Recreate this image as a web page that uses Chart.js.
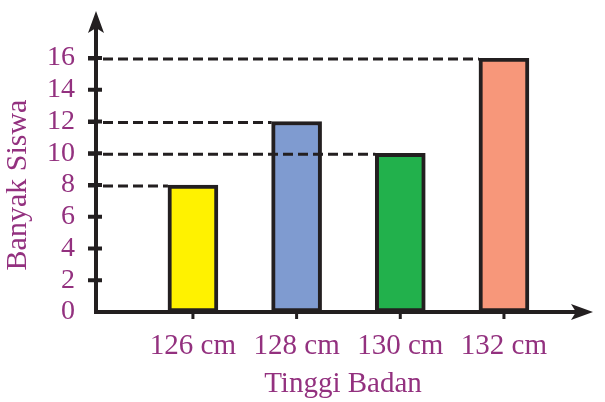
<!DOCTYPE html>
<html>
<head>
<meta charset="utf-8">
<script src="https://cdn.jsdelivr.net/npm/chart.js@4.4.0/dist/chart.umd.min.js"></script>
<style>
  html, body { margin: 0; padding: 0; background: #fff; }
  #wrap { width: 605px; height: 402px; }
</style>
</head>
<body>
<div id="wrap"><canvas id="heightChart" width="605" height="402"></canvas></div>
<script>
// data
const heights = [126, 128, 130, 132];
const heightLabels = ["126 cm", "128 cm", "130 cm", "132 cm"];
const students = [8, 12, 10, 16];
const barColors = ["#FFF200", "#7F9BD0", "#22B14C", "#F7977A"];
const yTicks = [0, 2, 4, 6, 8, 10, 12, 14, 16];

const ink = "#231F20";
const purple = "#93317F";
const serif = "'Liberation Serif', 'DejaVu Serif', serif";

// axes with arrows, tick marks and dashed guide lines
const axesPlugin = {
  id: "axesPlugin",
  afterDatasetsDraw(chart) {
    const ctx = chart.ctx;
    const xs = chart.scales.x;
    const ys = chart.scales.y;
    const x0 = xs.left;
    const y0 = ys.getPixelForValue(0);
    const meta = chart.getDatasetMeta(0);

    ctx.save();
    ctx.strokeStyle = ink;
    ctx.fillStyle = ink;

    // dashed lines from y axis to bar tops
    ctx.lineWidth = 3;
    ctx.setLineDash([10, 5]);
    meta.data.forEach((bar) => {
      const left = bar.x - bar.width / 2;
      ctx.beginPath();
      ctx.moveTo(x0 - 8, bar.y + 1);
      ctx.lineTo(left, bar.y + 1);
      ctx.stroke();
    });
    ctx.setLineDash([]);

    // y ticks
    ctx.lineWidth = 4;
    yTicks.slice(1).forEach((v) => {
      const py = ys.getPixelForValue(v);
      ctx.beginPath();
      ctx.moveTo(x0 - 8, py);
      ctx.lineTo(x0 + 6, py);
      ctx.stroke();
    });

    // x ticks
    ctx.lineWidth = 3;
    heights.forEach((h) => {
      const px = xs.getPixelForValue(h);
      ctx.beginPath();
      ctx.moveTo(px, y0);
      ctx.lineTo(px, y0 + 7);
      ctx.stroke();
    });

    // axis lines
    ctx.lineWidth = 4;
    ctx.beginPath();
    ctx.moveTo(x0, 26);
    ctx.lineTo(x0, y0);
    ctx.lineTo(580, y0);
    ctx.stroke();

    // arrow heads
    ctx.beginPath();
    ctx.moveTo(x0, 11);
    ctx.lineTo(x0 + 8, 33);
    ctx.lineTo(x0, 28);
    ctx.lineTo(x0 - 8, 33);
    ctx.closePath();
    ctx.fill();

    ctx.beginPath();
    ctx.moveTo(593, y0);
    ctx.lineTo(571, y0 - 8);
    ctx.lineTo(576, y0);
    ctx.lineTo(571, y0 + 8);
    ctx.closePath();
    ctx.fill();

    ctx.restore();
  },
};

new Chart(document.getElementById("heightChart"), {
  type: "bar",
  data: {
    datasets: [
      {
        data: heights.map((h, i) => ({ x: h, y: students[i] })),
        backgroundColor: barColors,
        borderColor: ink,
        borderWidth: 4,
        borderSkipped: false,
        barThickness: 50,
      },
    ],
  },
  options: {
    responsive: false,
    animation: false,
    devicePixelRatio: 1,
    layout: { padding: { left: 0, top: 58, right: 15, bottom: 0 } },
    plugins: { legend: { display: false }, tooltip: { enabled: false } },
    scales: {
      x: {
        type: "linear",
        offset: false,
        min: 124.13,
        max: 133.66,
        grid: { display: false, drawTicks: false },
        border: { display: false },
        afterBuildTicks: (scale) => {
          scale.ticks = heights.map((v) => ({ value: v }));
        },
        afterFit: (scale) => {
          scale.height = 90;
        },
        ticks: {
          autoSkip: false,
          maxRotation: 0,
          padding: 17,
          color: purple,
          font: { family: serif, size: 29 },
          callback: (v, i) => heightLabels[i],
        },
        title: {
          display: true,
          text: "Tinggi Badan",
          color: purple,
          font: { family: serif, size: 29 },
          padding: { top: 0, bottom: 0 },
        },
      },
      y: {
        min: 0,
        max: 16,
        grid: { display: false, drawTicks: false },
        border: { display: false },
        afterBuildTicks: (scale) => {
          scale.ticks = yTicks.map((v) => ({ value: v }));
        },
        afterFit: (scale) => {
          scale.width = 96;
        },
        ticks: {
          autoSkip: false,
          padding: 21,
          color: purple,
          font: { family: serif, size: 28 },
        },
        title: {
          display: true,
          text: "Banyak Siswa",
          color: purple,
          font: { family: serif, size: 30 },
          padding: { top: 0, bottom: 6 },
        },
      },
    },
  },
  plugins: [axesPlugin],
});
</script>
</body>
</html>
